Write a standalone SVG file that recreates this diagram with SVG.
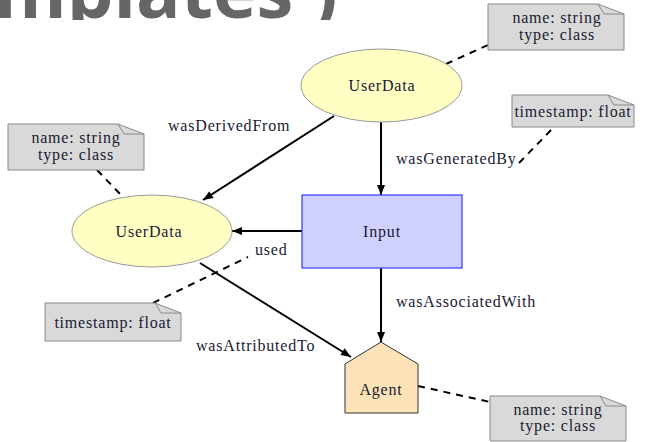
<svg xmlns="http://www.w3.org/2000/svg" width="645" height="442" viewBox="0 0 645 442">
<defs>
<marker id="arr" viewBox="0 0 10 8" refX="10" refY="4" markerWidth="11" markerHeight="8" markerUnits="userSpaceOnUse" orient="auto">
<path d="M0,0 L10,4 L0,8 z" fill="#000"/>
</marker>
<clipPath id="topclip"><rect x="0" y="0" width="645" height="20"/></clipPath>
</defs>
<style>
.t{font-family:"Liberation Serif","Times New Roman",serif;font-size:16px;letter-spacing:0.8px;fill:#1a1a33}
.m{text-anchor:middle}
.ell{fill:#ffffc4;stroke:#999;stroke-width:1}
.note{fill:#d9d9d9;stroke:#8a8a8a;stroke-width:1}
.fold{fill:none;stroke:#8a8a8a;stroke-width:1}
.e{stroke:#000;stroke-width:2;fill:none}
.d{stroke:#000;stroke-width:2;fill:none;stroke-dasharray:7,6}
</style>
<rect width="645" height="442" fill="#fff"/>
<g id="title" clip-path="url(#topclip)">
<text x="-6" y="18" style="font-family:'Open Sans','Noto Sans',sans-serif;font-weight:bold;font-size:74px;fill:#666">mplates )</text>
</g>
<g id="connectors">
<line class="e" x1="334" y1="116" x2="203" y2="200" marker-end="url(#arr)"/>
<line class="e" x1="381" y1="122" x2="381" y2="195" marker-end="url(#arr)"/>
<line class="e" x1="302" y1="231" x2="232" y2="231" marker-end="url(#arr)"/>
<line class="e" x1="200" y1="263" x2="351" y2="357" marker-end="url(#arr)"/>
<line class="e" x1="381" y1="268" x2="381" y2="342" marker-end="url(#arr)"/>
<line class="d" x1="446" y1="64" x2="488" y2="45"/>
<line class="d" x1="519" y1="163" x2="553" y2="128"/>
<line class="d" x1="97" y1="170" x2="122" y2="196"/>
<line class="d" x1="153" y1="303" x2="248" y2="257"/>
<line class="d" x1="418" y1="386" x2="490" y2="402"/>
<text class="t" x="168" y="131">wasDerivedFrom</text>
<text class="t" x="396" y="164">wasGeneratedBy</text>
<text class="t" x="255" y="255">used</text>
<text class="t" x="196" y="351">wasAttributedTo</text>
<text class="t" x="396" y="307">wasAssociatedWith</text>
</g>
<g id="userdata-top">
<ellipse class="ell" cx="381.5" cy="85.5" rx="80.5" ry="36.5"/>
<text class="t m" x="382" y="91">UserData</text>
</g>
<g id="userdata-left">
<ellipse class="ell" cx="152" cy="231" rx="80" ry="36"/>
<text class="t m" x="149" y="237">UserData</text>
</g>
<g id="input">
<rect x="302" y="195" width="160" height="73" fill="#d0d0ff" stroke="#3838ff" stroke-width="1.2"/>
<text class="t m" x="382" y="237">Input</text>
</g>
<g id="agent">
<polygon points="381,342 418,364 418,413 345,413 345,364" fill="#fee2b8" stroke="#333" stroke-width="1"/>
<text class="t m" x="381" y="395">Agent</text>
</g>
<g id="note-top">
<path class="note" d="M488,4 L598,4 L624,14 L624,50 L488,50 Z"/>
<path class="fold" d="M598,4 L604,14 L624,14"/>
<text class="t m" x="557" y="23">name: string</text>
<text class="t m" x="557" y="40">type: class</text>
</g>
<g id="note-ts-top">
<path class="note" d="M512,95 L608,95 L634,105 L634,127 L512,127 Z"/>
<path class="fold" d="M608,95 L614,105 L634,105"/>
<text class="t m" x="573" y="117">timestamp: float</text>
</g>
<g id="note-left">
<path class="note" d="M8,124 L118,124 L144,134 L144,170 L8,170 Z"/>
<path class="fold" d="M118,124 L124,134 L144,134"/>
<text class="t m" x="76" y="143">name: string</text>
<text class="t m" x="76" y="160">type: class</text>
</g>
<g id="note-ts-bottom">
<path class="note" d="M45,303 L155,303 L181,313 L181,341 L45,341 Z"/>
<path class="fold" d="M155,303 L161,313 L181,313"/>
<text class="t m" x="113" y="328">timestamp: float</text>
</g>
<g id="note-agent">
<path class="note" d="M490,396 L600,396 L626,406 L626,441 L490,441 Z"/>
<path class="fold" d="M600,396 L606,406 L626,406"/>
<text class="t m" x="558" y="415">name: string</text>
<text class="t m" x="558" y="431">type: class</text>
</g>
</svg>
